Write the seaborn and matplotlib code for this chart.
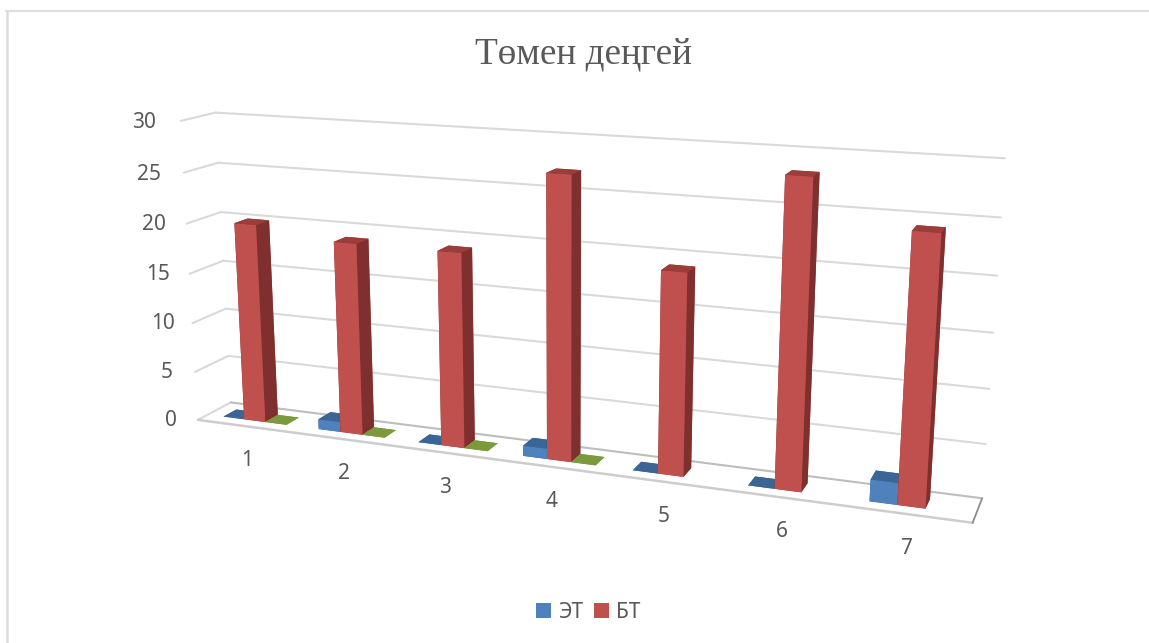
import numpy as np
import pandas as pd
import seaborn as sns
import matplotlib
matplotlib.use("Agg")
import matplotlib.pyplot as plt
from matplotlib.lines import Line2D
from matplotlib.patches import Patch
from mpl_toolkits.mplot3d import proj3d

# Values per group; the third series has no legend entry and stops after group 4.
groups = [1, 2, 3, 4, 5, 6, 7]
et_values = [0, 1, 0, 1, 0, 0, 2]
bt_values = [20, 19, 19, 27, 19, 28.2, 24.2]
third_values = [0, 0, 0, 0, np.nan, np.nan, np.nan]
value_ticks = [0, 5, 10, 15, 20, 25, 30]
title_text = "Төмен деңгей"
legend_labels = ["ЭТ", "БТ"]

table = pd.DataFrame({"ЭТ": et_values, "БТ": bt_values, "third": third_values}, index=groups)

sns.set_theme(style="white")
plt.rcParams["font.family"] = ["Noto Sans", "DejaVu Sans"]

# (front, side, top) shades per series
shades = {
    "ЭТ": ("#4F81BD", "#3A6190", "#3A6595"),
    "БТ": ("#C0504D", "#7F302E", "#9C3D3A"),
    "third": ("#9BBB59", "#6E8A3A", "#7A9A3C"),
}
TEXT = "#595959"
GRID = "#D9D9D9"

W, H = 1149, 643
fig = plt.figure(figsize=(W / 100, H / 100), dpi=100, facecolor="white")

# Square 3D axes whose centre carries the centre of the box
half = 435
cx, cy = 552, 313
ax = fig.add_axes([(cx - half) / W, 1 - (cy + half) / H, 2 * half / W, 2 * half / H],
                  projection="3d", computed_zorder=False)
ax.set_box_aspect((1, 0.08, 0.395))
ax.view_init(elev=14.4, azim=-69)
ax.set_proj_type("persp", focal_length=0.354)
ax.set_axis_off()
ax.patch.set_alpha(0)

n = len(groups)
zmax = value_ticks[-1]

# Walls and floor
for v in value_ticks:
    ax.plot([0, 0], [0, 1], [v, v], color=GRID, lw=1.5, zorder=1, clip_on=False)
    ax.plot([0, n], [1, 1], [v, v], color="#BDBDBD" if v == 0 else GRID, lw=1.5, zorder=1, clip_on=False)
ax.plot([0, n], [0, 0], [0, 0], color="#CDCDCD", lw=1.8, zorder=1, clip_on=False)
ax.plot([n, n], [0, 1], [0, 0], color="#8C8C8C", lw=1.3, zorder=1, clip_on=False)

# Bars, left to right, so nearer faces paint over farther ones
bar_w = 1 / 4.5
bar_d = 0.4
order = 2
for i, g in enumerate(groups):
    for k, series in enumerate(table.columns):
        v = table.loc[g, series]
        if np.isnan(v):
            continue
        front, side, top = shades[series]
        # face order of bar3d: bottom, top, front, back, left, right
        faces = [top, top, front, top, side, side]
        bars = ax.bar3d(i + 0.75 / 4.5 + k * bar_w, 0.3, 0, bar_w, bar_d, v,
                        color=faces, shade=False, linewidth=0, zorder=order)
        bars.set_clip_on(False)
        order += 1

ax.set_xlim(0, n)
ax.set_ylim(0, 1)
ax.set_zlim(0, zmax)


def flat_label(x, y, z, text):
    """Place a label at a 3D location as ordinary 2D text on the axes."""
    px, py, _ = proj3d.proj_transform(x, y, z, ax.get_proj())
    ax.text2D(px, py, text, transform=ax.transData, color=TEXT, fontsize=15,
              ha="center", va="center")


# Value and group labels
for v in value_ticks:
    flat_label(-0.29 - 0.003 * v, 0, v - 0.4, str(v))
for i, g in enumerate(groups):
    flat_label(i + 0.5, 0, -3.6 + 0.08 * i, str(g))

fig.text(583 / W, 1 - 54.5 / H, title_text, family="Liberation Serif", fontsize=26.8,
         color=TEXT, ha="center", va="center")

handles = [Patch(facecolor=shades[s][0], edgecolor="none") for s in legend_labels]
fig.legend(handles, legend_labels, ncol=2, loc="center", frameon=False,
           bbox_to_anchor=(588.5 / W, 1 - 612.5 / H), fontsize=15, labelcolor=TEXT,
           handlelength=0.72, handleheight=0.72, handletextpad=0.35, columnspacing=0.5)

# Chart frame
fig.add_artist(Line2D([7 / W, 7 / W], [0, 1 - 11 / H], color="#DDDDDD", lw=1.8))
fig.add_artist(Line2D([6 / W, 1], [1 - 11 / H, 1 - 11 / H], color="#DDDDDD", lw=1.5))

fig.savefig("out.png", dpi=100, facecolor="white")
